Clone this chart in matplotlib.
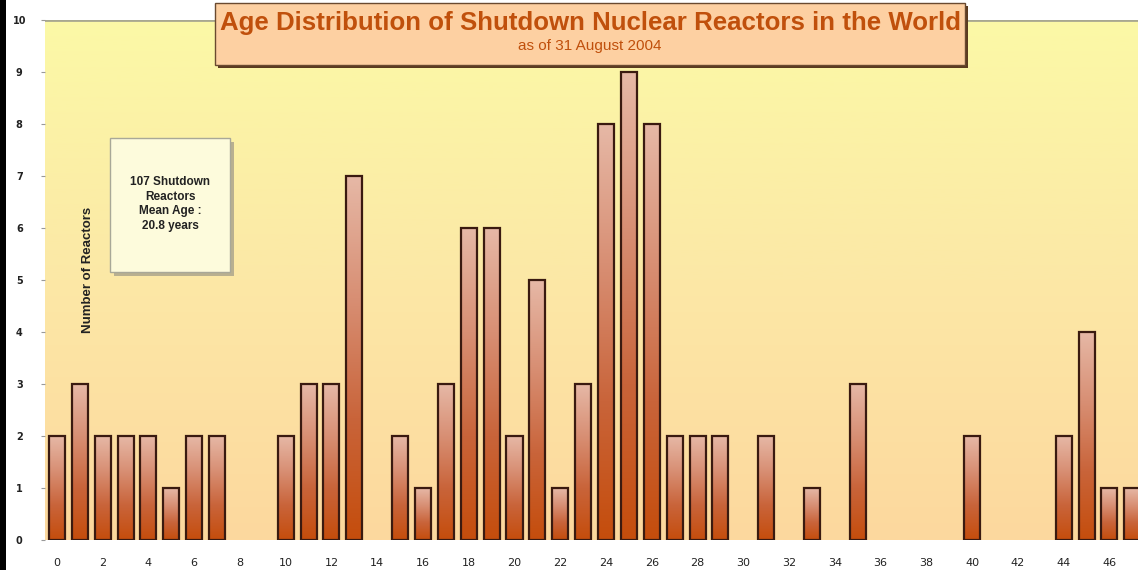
import numpy as np
import matplotlib
matplotlib.use("Agg")
import matplotlib.pyplot as plt
from matplotlib.colors import LinearSegmentedColormap
from matplotlib.patches import Rectangle

ages = list(range(48))
counts = [2, 3, 2, 2, 2, 1, 2, 2, 0, 0,
          2, 3, 3, 7, 0, 2, 1, 3, 6, 6,
          2, 5, 1, 3, 8, 9, 8, 2, 2, 2,
          0, 2, 0, 1, 0, 3, 0, 0, 0, 0,
          2, 0, 0, 0, 2, 4, 1, 1]
xticks = list(range(0, 47, 2))
yticks = list(range(0, 11))
title = "Age Distribution of Shutdown Nuclear Reactors in the World"
subtitle = "as of 31 August 2004"
ylabel = "Number of Reactors"
note = "107 Shutdown\nReactors\nMean Age :\n20.8 years"

FONT = ["Liberation Sans", "DejaVu Sans"]
plt.rcParams["font.family"] = FONT

W, H = 1138, 570
fig = plt.figure(figsize=(W / 100, H / 100), dpi=100)
fig.patch.set_facecolor("white")
ax = fig.add_axes([45 / W, 1 - 540 / H, 1 - 45 / W, 520 / H])
ax.set_xlim(-0.52, 47.25)
ax.set_ylim(0, 10)

# background gradient
bg = LinearSegmentedColormap.from_list("bg", ["#fdd89e", "#fce8a6", "#fbf9a6"])
grad = np.linspace(0, 1, 256).reshape(-1, 1)
ax.imshow(grad, cmap=bg, aspect="auto", extent=[-0.52, 47.25, 0, 10],
          origin="lower", zorder=0)

# bars with per-bar gradient
barcm = LinearSegmentedColormap.from_list(
    "bar", ["#c54d0c", "#c9643a", "#d88f74", "#e6b8a6"])
width = 0.7
bars = ax.bar(ages, counts, width=width, facecolor="none",
              edgecolor="#3a1a10", linewidth=1.6, zorder=3)
for b, c in zip(bars, counts):
    if c <= 0:
        b.set_visible(False)
        continue
    x0 = b.get_x()
    im = ax.imshow(grad, cmap=barcm, aspect="auto",
                   extent=[x0, x0 + width, 0, c], origin="lower", zorder=2)
    im.set_clip_path(b)

ax.axhline(10, color="#a8a890", lw=2, zorder=1)

for s in ax.spines.values():
    s.set_visible(False)
ax.set_xticks(xticks)
ax.set_xticklabels([str(t) for t in xticks], fontsize=8, color="#222222",
                   family="DejaVu Sans")
ax.set_yticks(yticks)
ax.set_yticklabels([str(t) for t in yticks], fontsize=7, fontweight="bold",
                   color="#222222", family="DejaVu Sans")
for lab in ax.get_yticklabels():
    lab.set_ha("center")
ax.tick_params(axis="x", length=0, pad=13)
ax.tick_params(axis="y", length=3, color="#999999", pad=15.5)

ax.text(1.35, 5.19, ylabel, rotation=90, fontsize=9.5, fontweight="bold",
        ha="center", va="center", color="#222222", zorder=5)

# note box
fig.patches.append(Rectangle((114 / W, 1 - 276 / H), 120 / W, 134 / H,
                             transform=fig.transFigure, facecolor="#b8b090",
                             edgecolor="none", zorder=4))
fig.patches.append(Rectangle((110 / W, 1 - 272 / H), 120 / W, 134 / H,
                             transform=fig.transFigure, facecolor="#fdfbdc",
                             edgecolor="#a8a898", lw=1, zorder=5))
fig.text(170 / W, 1 - 204 / H, note, ha="center", va="center", fontsize=8.5,
         fontweight="bold", color="#222222", linespacing=1.3, zorder=6)

# title box
fig.patches.append(Rectangle((218 / W, 1 - 68 / H), 750 / W, 62 / H,
                             transform=fig.transFigure, facecolor="#5a3a20",
                             edgecolor="none", zorder=4))
fig.patches.append(Rectangle((215 / W, 1 - 65 / H), 750 / W, 62 / H,
                             transform=fig.transFigure, facecolor="#fdd0a2",
                             edgecolor="#6a4a30", lw=1, zorder=5))
fig.text(590 / W, 1 - 23 / H, title, ha="center", va="center", fontsize=18.6,
         fontweight="bold", color="#c0500c", zorder=6)
fig.text(590 / W, 1 - 46 / H, subtitle, ha="center", va="center", fontsize=11,
         color="#c0500c", zorder=6)

# black left strip
fig.patches.append(Rectangle((0, 0), 6 / W, 1, transform=fig.transFigure,
                             facecolor="black", edgecolor="none", zorder=10))

fig.savefig("out.png", dpi=100)
